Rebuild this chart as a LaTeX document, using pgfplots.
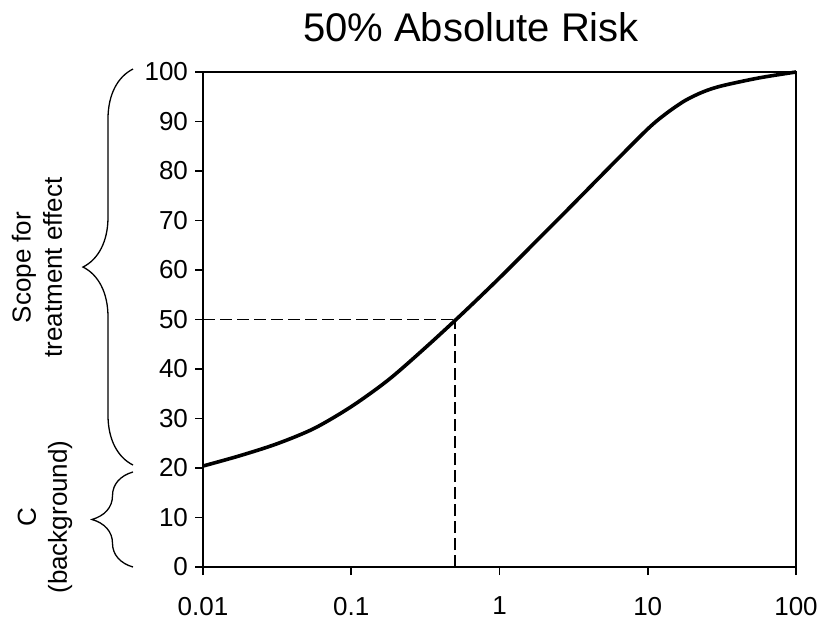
\documentclass[border=0pt]{standalone}
\usepackage{fontspec}
\setmainfont{Liberation Sans}
\usepackage{pgfplots}
\pgfplotsset{compat=1.18}
\usetikzlibrary{decorations.pathreplacing}

\begin{document}
\begin{tikzpicture}
\begin{axis}[
    scale only axis,
    width=296.5pt, height=247.5pt,
    xmode=log,
    xmin=0.01, xmax=100, ymin=0, ymax=100,
    xtick={0.01,0.1,1,10,100},
    xticklabels={0.01,0.1,1,10,100},
    xminorticks=false,
    ytick={0,10,...,100},
    xtick pos=bottom, ytick pos=left,
    tick align=outside,
    major tick length=4pt,
    axis line style={line width=0.85pt},
    every tick/.style={black, line width=0.85pt},
    /pgf/number format/assume math mode=true,
    tick label style={font=\fontsize{13}{15.6}\selectfont},
    xticklabel style={yshift=-7.5pt},
    clip=false,
]
% fitted curve (read off at quarter decades)
\addplot[black, line width=1.8pt, smooth] coordinates {
    (0.01,20.4) (0.0178,22.5) (0.0316,24.9) (0.0562,28.0) (0.1,32.4)
    (0.178,37.8) (0.316,44.3) (0.562,51.2) (1,58.4) (1.78,65.9)
    (3.16,73.4) (5.62,81.0) (10,88.5) (13.3,91.6) (17.8,94.2)
    (23.7,96.0) (31.6,97.2) (56.2,98.8) (100,100)
};
% 50% reference lines
\addplot[black, line width=0.8pt, dash pattern=on 6pt off 2.5pt] coordinates {(0.01,50) (0.5,50)};
\addplot[black, line width=0.8pt, dash pattern=on 6pt off 2.5pt] coordinates {(0.5,0) (0.5,50)};

% braces and their labels
\draw[line width=0.65pt, decorate, decoration={brace, amplitude=25pt, aspect=0.5}]
    ([xshift=-35pt]axis cs:0.01,20.6) -- ([xshift=-35pt]axis cs:0.01,100.6);
\draw[line width=0.65pt, decorate, decoration={brace, amplitude=20.5pt, aspect=0.5}]
    ([xshift=-35pt]axis cs:0.01,0) -- ([xshift=-35pt]axis cs:0.01,19.2);
\node[rotate=90, align=center, inner sep=0pt, font=\fontsize{13}{15.6}\selectfont]
    at ([xshift=-83pt]axis cs:0.01,60.5) {Scope for\\treatment effect};
\node[rotate=90, align=center, inner sep=0pt, font=\fontsize{13}{15.6}\selectfont]
    at ([xshift=-79pt]axis cs:0.01,10.1) {C\\(background)};

\node[anchor=base, font=\fontsize{20}{24}\selectfont]
    at ([yshift=15pt]rel axis cs:0.452,1) {50\% Absolute Risk};

\coordinate (ll) at (rel axis cs:0,0);
\coordinate (ur) at (rel axis cs:1,1);
\end{axis}
\pgfresetboundingbox
\useasboundingbox ([xshift=-101.5pt,yshift=-31.5pt]ll) rectangle ([xshift=13.5pt,yshift=36pt]ur);
\end{tikzpicture}
\end{document}
